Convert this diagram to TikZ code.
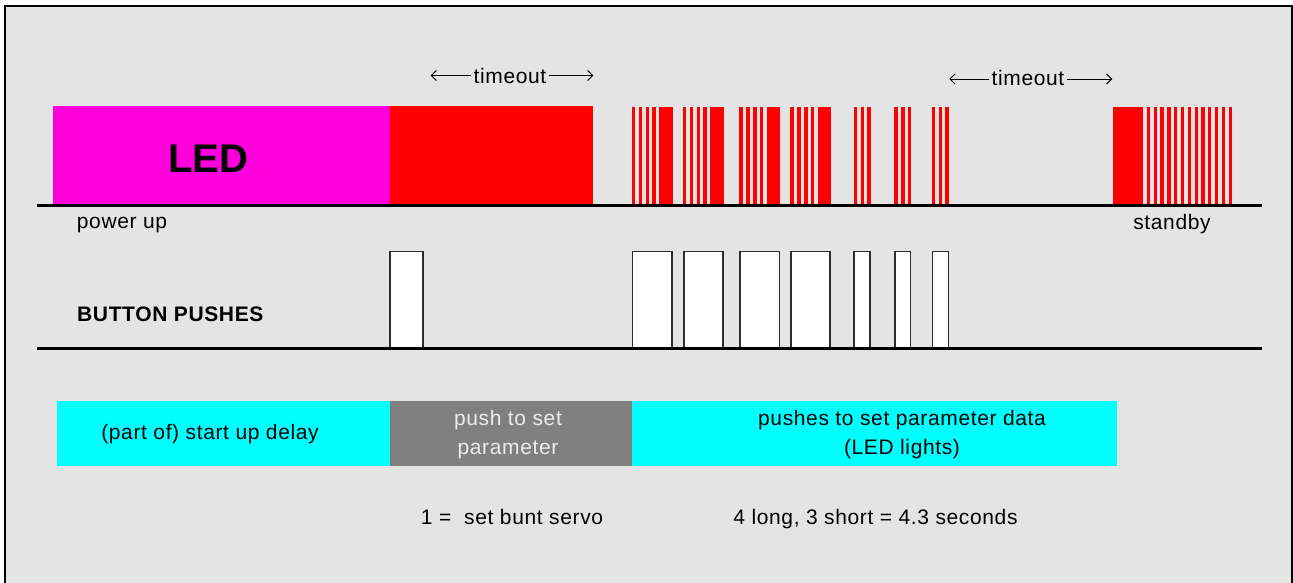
\documentclass[tikz,border=0pt]{standalone}
\usepackage{fontspec}
\setmainfont{Liberation Sans}
\newfontfamily\lblfont{Liberation Sans}[LetterSpace=3]
\usetikzlibrary{arrows.meta}
\definecolor{panel}{RGB}{228,228,228}
\definecolor{ledmag}{RGB}{255,0,221}
\definecolor{ledred}{RGB}{255,0,0}
\definecolor{phase}{RGB}{0,255,255}
\definecolor{setgray}{RGB}{128,128,128}
\definecolor{settext}{RGB}{236,236,236}
\definecolor{boxline}{RGB}{45,45,45}
\begin{document}
\begin{tikzpicture}[x=1pt,y=-1pt,
  lbl/.style={font=\lblfont\fontsize{21}{25}\selectfont, inner sep=0pt, anchor=base},
  boldlbl/.style={font=\lblfont\bfseries\fontsize{21}{25}\selectfont, inner sep=0pt},
  ledlbl/.style={font=\bfseries\fontsize{40}{44}\selectfont, inner sep=0pt, anchor=base},
  axis/.style={line width=3pt},
  flash/.style={fill=ledred},
  pushbox/.style={fill=white, draw=boxline, line width=1.6pt},
  tarrow/.style={line width=1pt, -{Straight Barb[length=5pt,width=10pt,line width=1pt]}}
]
\useasboundingbox (0,0) rectangle (1293,582);
\fill[white] (0,0) rectangle (1293,582);

% frame
\fill[panel] (5,6) rectangle (1292,590);
\draw[line width=2pt] (5,590) -- (5,6) -- (1292,6) -- (1292,590);

% ---------- LED row ----------
\fill[ledmag] (53,106) rectangle (390,205);
\fill[ledred] (390,106) rectangle (593,205);
\node[ledlbl] (led) at (208,172) {LED};

% long flash groups: four short flashes and one long flash
\foreach \g in {631.7,682.7,739.3,790.3}{
  \foreach \o in {0,7,14,20.7}{
    \fill[flash] (\g+\o,107) rectangle (\g+\o+3.4,205);
  }
  \fill[flash] (\g+27.5,107) rectangle (\g+41,205);
}
% short flash groups
\foreach \g in {853.7,894.3,931.7}{
  \foreach \o in {0,6.8,13.6}{
    \fill[flash] (\g+\o,107) rectangle (\g+\o+3.4,205);
  }
}
% standby pattern
\fill[flash] (1112.7,107) rectangle (1143.3,205);
\foreach \k in {0,...,12}{
  \fill[flash] (1146.7+\k*6.83,107) rectangle (1150+\k*6.83,205);
}

\draw[axis] (37,205) -- (1262,205);
\node[lbl] (pwr) at (122,228) {power up};
\node[lbl] (stby) at (1172,229) {standby};

% timeout markers
\node[lbl] (to1) at (510,83) {timeout};
\coordinate (to1l) at (430.7,75.5);
\coordinate (to1r) at (593.3,75.5);
\draw[tarrow] ([xshift=-2pt]to1.west |- to1l) -- (to1l);
\draw[tarrow] ([xshift=2pt]to1.east |- to1r) -- (to1r);

\node[lbl] (to2) at (1028,85) {timeout};
\coordinate (to2l) at (949.3,79);
\coordinate (to2r) at (1112.3,79);
\draw[tarrow] ([xshift=-2pt]to2.west |- to2l) -- (to2l);
\draw[tarrow] ([xshift=2pt]to2.east |- to2r) -- (to2r);

% ---------- button row ----------
\node[boldlbl, anchor=base west] (btn) at (77,321) {BUTTON PUSHES};
\foreach \a/\b in {390/423,632.6/672,684/723,740/779.5,791/830,854/870,895/910.5,932.6/948.5}{
  \draw[pushbox] (\a,251.5) rectangle (\b,348);
}
\draw[axis] (37,348) -- (1262,348);

% ---------- phase bar ----------
\fill[phase] (57,400.5) rectangle (390,465.5);
\fill[setgray] (390,400.5) rectangle (632,465.5);
\fill[phase] (632,400.5) rectangle (1117,465.5);

\node[lbl] (delay) at (210,439.5) {(part of) start up delay};
\node[lbl, text=settext] (set1) at (508,425) {push to set};
\node[lbl, text=settext] (set2) at (508,454) {parameter};
\node[lbl] (data1) at (902,425) {pushes to set parameter data};
\node[lbl] (data2) at (902,454) {(LED lights)};

\node[lbl] (note1) at (512,524) {1 =\ \ set bunt servo};
\node[lbl] (note2) at (875.5,524) {4 long, 3 short = 4.3 seconds};
\end{tikzpicture}
\end{document}
